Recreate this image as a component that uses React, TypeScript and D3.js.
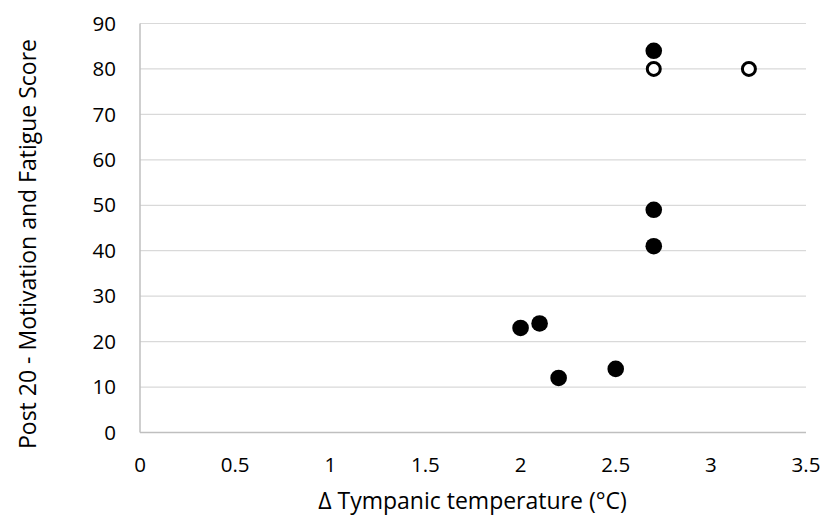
import React from "react";
import * as d3 from "d3";

const xTicks = [0, 0.5, 1, 1.5, 2, 2.5, 3, 3.5];
const yTicks = [0, 10, 20, 30, 40, 50, 60, 70, 80, 90];
const filledX = [2.0, 2.1, 2.2, 2.5, 2.7, 2.7, 2.7];
const filledY = [23, 24, 12, 14, 41, 49, 84];
const openX = [2.7, 3.2];
const openY = [80, 80];
const xTitle = "Δ Tympanic temperature (°C)";
const yTitle = "Post 20 - Motivation and Fatigue Score";

export default function App() {
  const W = 827, H = 518;
  const x = d3.scaleLinear().domain([0, 3.5]).range([140, 806]);
  const y = d3.scaleLinear().domain([0, 90]).range([432.5, 23.5]);
  const font = "'Open Sans', sans-serif";
  return (
    <svg width={W} height={H} style={{ position: "absolute", left: 0, top: 0, background: "#fff" }}>
      {yTicks.filter(t => t > 0).map(t => (
        <line key={"g" + t} x1={x(0)} x2={x(3.5)} y1={y(t)} y2={y(t)} stroke="#d9d9d9" strokeWidth={1.2} />
      ))}
      <line x1={x(0)} x2={x(0)} y1={y(90)} y2={y(0)} stroke="#bfbfbf" strokeWidth={1.5} />
      <line x1={x(0)} x2={x(3.5)} y1={y(0)} y2={y(0)} stroke="#bfbfbf" strokeWidth={1.5} />
      {yTicks.map(t => (
        <text key={"y" + t} x={116} y={y(t)} dy="0.35em" textAnchor="end" fontFamily={font} fontSize={20.5} fill="#000">{t}</text>
      ))}
      {xTicks.map(t => (
        <text key={"x" + t} x={x(t)} y={464.5} dy="0.35em" textAnchor="middle" fontFamily={font} fontSize={20.5} fill="#000">{t}</text>
      ))}
      <text x={472.5} y={509} textAnchor="middle" fontFamily={font} fontSize={23} fill="#000">{xTitle}</text>
      <text transform={`translate(36,244) rotate(-90)`} textAnchor="middle" fontFamily={font} fontSize={23} fill="#000">{yTitle}</text>
      {filledX.map((v, i) => (
        <circle key={"f" + i} cx={x(v)} cy={y(filledY[i])} r={8.3} fill="#000" />
      ))}
      {openX.map((v, i) => (
        <circle key={"o" + i} cx={x(v)} cy={y(openY[i])} r={6.5} fill="#fff" stroke="#000" strokeWidth={3} />
      ))}
    </svg>
  );
}
